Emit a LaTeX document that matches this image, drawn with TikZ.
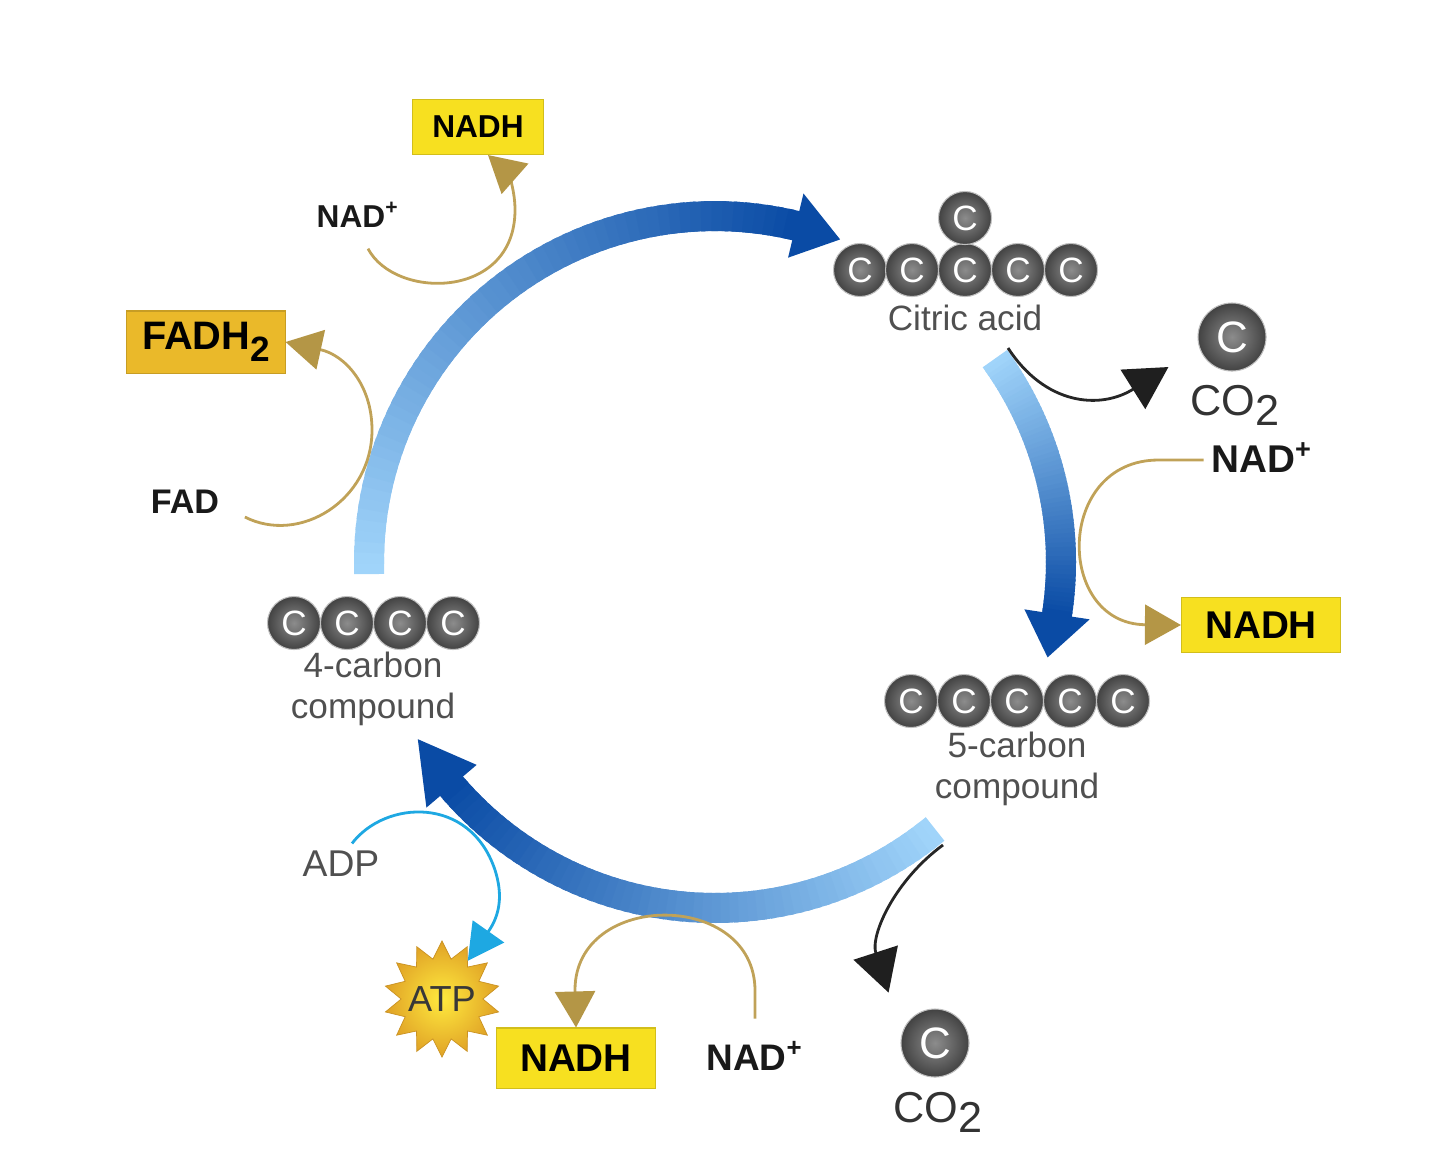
\documentclass[tikz,border=0pt]{standalone}
\usepackage{fontspec}
\setmainfont{Liberation Sans}
\usetikzlibrary{arrows.meta, shapes.geometric}
\definecolor{arclight}{RGB}{160,212,250}
\definecolor{arcdark}{RGB}{10,75,165}
\definecolor{goldline}{RGB}{192,162,88}
\definecolor{goldtip}{RGB}{180,150,70}
\definecolor{nadhyellow}{RGB}{247,224,32}
\definecolor{fadhgold}{RGB}{234,185,42}
\definecolor{adpcyan}{RGB}{30,168,226}
\definecolor{labelgrey}{RGB}{80,80,80}
\definecolor{atpcore}{RGB}{255,234,62}
\definecolor{atprim}{RGB}{224,162,38}
\tikzset{
  carbon/.style={circle, minimum size=0.53cm, inner sep=0pt,
    inner color=black!45, outer color=black!74, draw=black!25, line width=0.3pt,
    text=white, font=\fontsize{10}{10}\selectfont},
  bigcarbon/.style={carbon, minimum size=0.68cm, font=\fontsize{12.5}{12.5}\selectfont},
  cname/.style={text=labelgrey, font=\fontsize{10}{11.5}\selectfont, align=center, inner sep=1pt},
  mol/.style={text=black!90, font=\fontsize{#1}{#1}\selectfont\bfseries, inner sep=2pt},
  mol/.default=9,
  carrier/.style={fill=nadhyellow, draw=nadhyellow!85!black, line width=0.3pt,
    font=\fontsize{11}{11}\selectfont\bfseries, minimum width=1.58cm,
    minimum height=0.55cm, inner sep=0pt},
  goldarrow/.style={draw=goldline, line width=0.028cm,
    -{Triangle[length=0.36cm, width=0.4cm, color=goldtip]}},
  co2arrow/.style={draw=black!85, line width=0.028cm,
    -{Triangle[length=0.42cm, width=0.46cm, color=black!88]}},
  atparrow/.style={draw=adpcyan, line width=0.028cm,
    -{Triangle[length=0.36cm, width=0.38cm, color=adpcyan]}}
}
% one leg of the cycle: start angle, end of body, tip angle
\newcommand{\cyclearc}[3]{%
  \foreach \k in {0,...,59}{
    \pgfmathsetmacro{\aa}{#1+((#2)-(#1))*\k/60}
    \pgfmathsetmacro{\ab}{#1+((#2)-(#1))*(\k+1.6)/60}
    \pgfmathtruncatemacro{\pc}{100*\k/59}
    \draw[line width=0.3cm, arcdark!\pc!arclight] (\aa:346) -- (\ab:346);
  }
  \fill[arcdark] (#2:313) -- (#2:379) -- (#3:346) -- cycle;
}

\begin{document}
\begin{tikzpicture}[x=0.01cm, y=-0.01cm]
\useasboundingbox (0,0) rectangle (1440,1160);

% the cycle
\begin{scope}[shift={(715,562)}]
  \cyclearc{-182}{-76.5}{-68.8}
  \cyclearc{-36}{8.7}{16}
  \cyclearc{50.5}{139.6}{149.2}
\end{scope}

% citric acid
\node[carbon] (cit1) at (860,270) {C};
\node[carbon] (cit2) at (912,270) {C};
\node[carbon] (cit3) at (965,270) {C};
\node[carbon] (cit4) at (1018,270) {C};
\node[carbon] (cit5) at (1071,270) {C};
\node[carbon] (cit6) at (965,218) {C};
\node[cname] (citric) at (965,318) {Citric acid};

% 5-carbon compound
\node[carbon] (pen1) at (911,701) {C};
\node[carbon] (pen2) at (964,701) {C};
\node[carbon] (pen3) at (1017,701) {C};
\node[carbon] (pen4) at (1070,701) {C};
\node[carbon] (pen5) at (1123,701) {C};
\node[cname] (penta) at (1017,769) {5-carbon\\compound};

% 4-carbon compound
\node[carbon] (tet1) at (294,623) {C};
\node[carbon] (tet2) at (347,623) {C};
\node[carbon] (tet3) at (400,623) {C};
\node[carbon] (tet4) at (453,623) {C};
\node[cname] (tetra) at (373,689) {4-carbon\\compound};

% released CO2
\node[bigcarbon] (cball1) at (1232,337) {C};
\node[text=black!80, font=\fontsize{12.3}{13}\selectfont, inner sep=1pt] (co2a) at (1235,405) {CO\raisebox{-2.8pt}{2}};
\node[bigcarbon] (cball2) at (935,1043) {C};
\node[text=black!80, font=\fontsize{12.3}{13}\selectfont, inner sep=1pt] (co2b) at (938,1112) {CO\raisebox{-2.8pt}{2}};
\coordinate (rel1) at (1008,348);
\coordinate (rel2) at (943,845);

% carriers
\node[carrier, minimum width=1.31cm, font=\fontsize{9}{9}\selectfont\bfseries] (nadh1) at (478,127) {NADH};
\node[mol] (nadp1) at (358,215) {NAD\textsuperscript{+}};
\node[carrier, fill=fadhgold, draw=fadhgold!85!black, minimum height=0.62cm, font=\fontsize{11.3}{11.3}\selectfont\bfseries] (fadh) at (206,342) {FADH\raisebox{-3.5pt}{\fontsize{10}{10}\selectfont 2}};
\node[mol=9.7] (fad) at (185,502) {FAD};
\node[mol=11] (nadp2) at (1262,458) {NAD\textsuperscript{+}};
\node[carrier, minimum width=1.59cm] (nadh2) at (1261,625) {NADH};
\node[mol=10.5] (nadp3) at (755,1056) {NAD\textsuperscript{+}};
\node[carrier, minimum height=0.6cm] (nadh3) at (576,1058) {NADH};
\node[text=labelgrey, font=\fontsize{10.6}{11}\selectfont, inner sep=2pt] (adp) at (341,864) {ADP};
\node[star, star points=14, star point ratio=1.42, minimum size=1.16cm, inner sep=0pt,
  inner color=atpcore, outer color=atprim, draw=atprim!90!black, line width=0.2pt,
  text=black!78, font=\fontsize{10.3}{11}\selectfont] (atp) at (442,999) {\makebox[0pt]{ATP}};

% connectors
\draw[goldarrow] ([xshift=0.1cm,yshift=-0.13cm]nadp1.south) .. controls (395,300) and (515,300) .. (515,210)
  .. controls (515,185) and (505,170) .. ([xshift=0.1cm]nadh1.south);
\draw[goldarrow] ([xshift=0.18cm,yshift=-0.15cm]fad.east) .. controls (300,545) and (372,500) .. (372,430)
  .. controls (372,385) and (345,355) .. (fadh.east);
\draw[goldarrow] ([yshift=-0.02cm]nadp2.west) -- ++(-45,0) .. controls (1055,460) and (1055,624) .. (nadh2.west);
\draw[goldarrow] ([yshift=0.15cm]nadp3.north) -- ++(0,-28) .. controls (755,890) and (575,890) .. (575,990) -- (nadh3.north);
\draw[atparrow] ([xshift=0.11cm]adp.north) .. controls (385,800) and (470,795) .. (495,870)
  .. controls (503,895) and (500,915) .. (atp.56);
\draw[co2arrow] (rel1) .. controls (1045,405) and (1100,410) .. ([xshift=-0.29cm,yshift=-0.3cm]cball1.west);
\draw[co2arrow] (rel2) .. controls (895,880) and (870,935) .. ([xshift=-0.22cm,yshift=0.26cm]cball2.north west);
\end{tikzpicture}
\end{document}
